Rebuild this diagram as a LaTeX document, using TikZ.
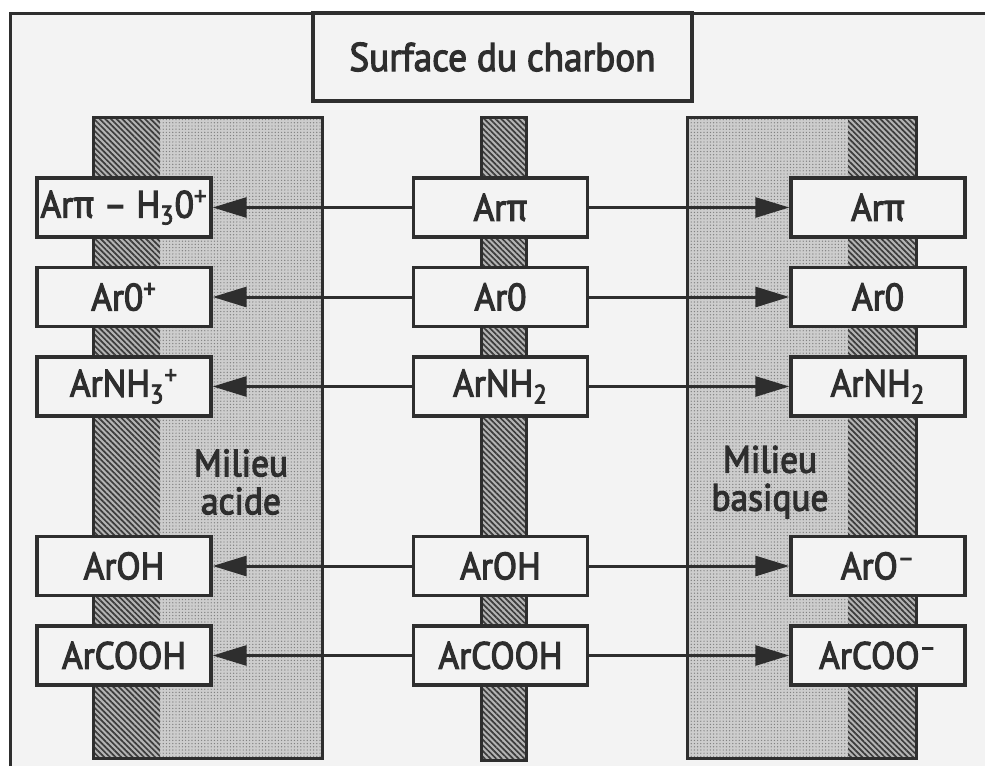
\documentclass[tikz,border=0pt]{standalone}
\usepackage{fontspec}
\setmainfont{PT Sans}[FakeBold=3, FakeStretch=0.93]
\newfontfamily\grk{Fira Sans}[FakeBold=2.5, FakeStretch=0.93]
\usetikzlibrary{arrows.meta,patterns.meta}
\definecolor{ink}{HTML}{2E2E2E}
\definecolor{paper}{HTML}{F3F3F3}
\definecolor{dotbase}{HTML}{CDCDCD}
\definecolor{dotink}{HTML}{808080}
\definecolor{hatchbase}{HTML}{B4B4B4}
\definecolor{hatchink}{HTML}{3C3C3C}
\tikzset{
  lbl/.style={font=\fontsize{19}{22}\selectfont, text=ink},
  box/.style={lbl, draw=ink, line width=1.7pt, fill=paper, inner sep=0pt,
              minimum width=87pt, minimum height=29.5pt},
  hatchfill/.style={fill=hatchbase, postaction={pattern={Lines[angle=-45,distance=2pt,line width=0.85pt]}, pattern color=hatchink}},
  dotfill/.style={fill=dotbase, postaction={pattern={Dots[distance=1.6pt,radius=0.35pt]}, pattern color=dotink}},
  colborder/.style={draw=ink, line width=1.5pt},
  arr/.style={draw=ink, line width=1.5pt, -{Triangle[length=17pt,width=10pt]}},
  frame/.style={draw=ink, line width=1.5pt},
}
\newcommand{\arpi}{Ar{\grk π}}
\begin{document}
\begin{tikzpicture}[x=0.5pt,y=-0.5pt]
\useasboundingbox (0,0) rectangle (985,766);
\fill[white] (0,0) rectangle (985,766);
\fill[paper] (10,13) rectangle (985,766);
\draw[frame] (10,766) -- (10,13) -- (985,13);

% columns
\fill[hatchfill] (93,117) rectangle (160,758);
\fill[dotfill] (160,117) rectangle (322,758);
\draw[colborder] (93,117) rectangle (322,758);

\fill[hatchfill] (481,117) rectangle (526,760);
\draw[colborder] (481,117) rectangle (526,760);

\fill[dotfill] (687,117) rectangle (848,758);
\fill[hatchfill] (848,117) rectangle (916,758);
\draw[colborder] (687,117) rectangle (916,758);

% surface box
\node[box, minimum width=189.5pt, minimum height=44pt, font=\fontsize{20}{24}\selectfont] (s) at (502.5,57) {Surface du charbon};

% milieu labels
\node[lbl, align=center] (ma) at (241,482) {Milieu\\[-3pt]acide};
\node[lbl, align=center] (mb) at (770,482) {Milieu\\[-3pt]basique};

% boxes
\foreach \n/\y in {1/207.5,2/297,3/386.5,4/566,5/655.5}{
  \coordinate (cl\n) at (124,\y);
  \coordinate (cm\n) at (500.5,\y);
  \coordinate (cr\n) at (878,\y);
}
\node[box] (l1) at (cl1) {\arpi{} – H\textsubscript{3}0\textsuperscript{+}};
\node[box] (l2) at (cl2) {Ar0\textsuperscript{+}};
\node[box] (l3) at (cl3) {ArNH\textsubscript{3}\textsuperscript{+}};
\node[box] (l4) at (cl4) {ArOH};
\node[box] (l5) at (cl5) {ArCOOH};

\node[box] (m1) at (cm1) {\arpi};
\node[box] (m2) at (cm2) {Ar0};
\node[box] (m3) at (cm3) {ArNH\textsubscript{2}};
\node[box] (m4) at (cm4) {ArOH};
\node[box] (m5) at (cm5) {ArCOOH};

\node[box] (r1) at (cr1) {\arpi};
\node[box] (r2) at (cr2) {Ar0};
\node[box] (r3) at (cr3) {ArNH\textsubscript{2}};
\node[box] (r4) at (cr4) {ArO\textsuperscript{–}};
\node[box] (r5) at (cr5) {ArCOO\textsuperscript{–}};

% arrows
\foreach \n in {1,...,5}{
  \draw[arr] (m\n.west) -- (l\n.east);
  \draw[arr] (m\n.east) -- (r\n.west);
}
\end{tikzpicture}
\end{document}
